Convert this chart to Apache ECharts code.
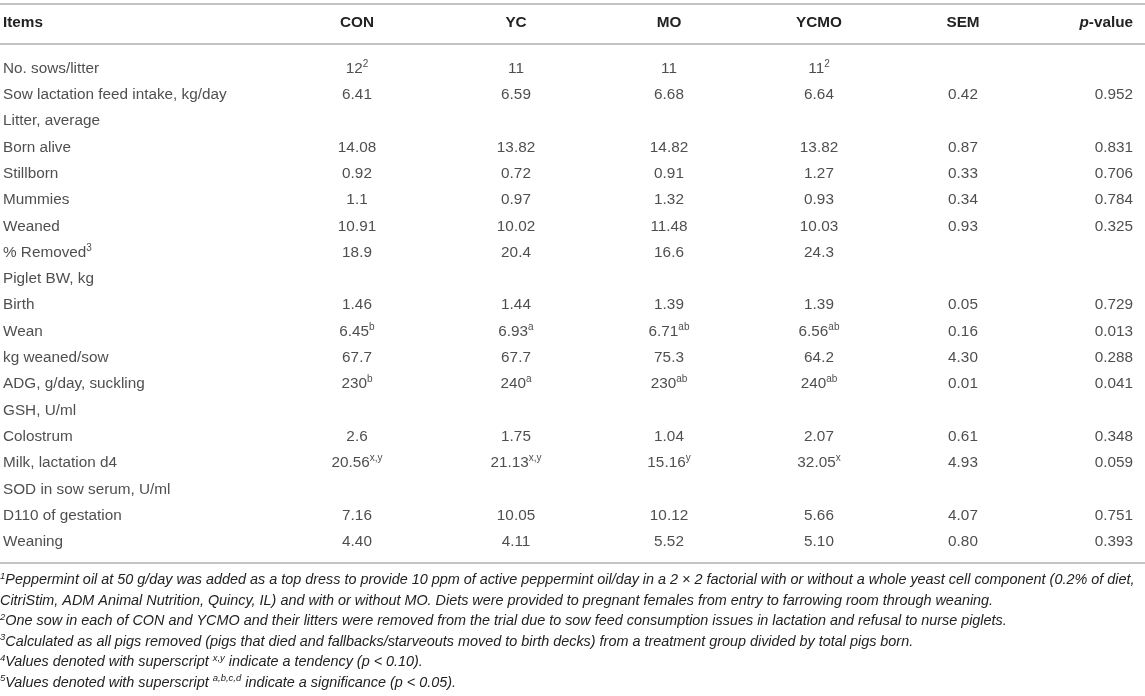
<!DOCTYPE html>
<html>
<head>
<meta charset="utf-8">
<script src="https://cdn.jsdelivr.net/npm/echarts@6/dist/echarts.min.js"></script>
<style>
  html, body { margin: 0; padding: 0; background: #fff; }
  #main { width: 1145px; height: 696px; }
</style>
</head>
<body>
<div id="main"></div>
<script>
// table data, superscripts marked with ^
var headers = ['Items', 'CON', 'YC', 'MO', 'YCMO', 'SEM', 'p-value'];
var items = ['No. sows/litter', 'Sow lactation feed intake, kg/day', 'Litter, average', 'Born alive',
  'Stillborn', 'Mummies', 'Weaned', '% Removed^3', 'Piglet BW, kg', 'Birth', 'Wean', 'kg weaned/sow',
  'ADG, g/day, suckling', 'GSH, U/ml', 'Colostrum', 'Milk, lactation d4', 'SOD in sow serum, U/ml',
  'D110 of gestation', 'Weaning'];
var con = ['12^2', '6.41', '', '14.08', '0.92', '1.1', '10.91', '18.9', '', '1.46', '6.45^b', '67.7',
  '230^b', '', '2.6', '20.56^x,y', '', '7.16', '4.40'];
var yc = ['11', '6.59', '', '13.82', '0.72', '0.97', '10.02', '20.4', '', '1.44', '6.93^a', '67.7',
  '240^a', '', '1.75', '21.13^x,y', '', '10.05', '4.11'];
var mo = ['11', '6.68', '', '14.82', '0.91', '1.32', '11.48', '16.6', '', '1.39', '6.71^ab', '75.3',
  '230^ab', '', '1.04', '15.16^y', '', '10.12', '5.52'];
var ycmo = ['11^2', '6.64', '', '13.82', '1.27', '0.93', '10.03', '24.3', '', '1.39', '6.56^ab', '64.2',
  '240^ab', '', '2.07', '32.05^x', '', '5.66', '5.10'];
var sem = ['', '0.42', '', '0.87', '0.33', '0.34', '0.93', '', '', '0.05', '0.16', '4.30', '0.01',
  '', '0.61', '4.93', '', '4.07', '0.80'];
var pval = ['', '0.952', '', '0.831', '0.706', '0.784', '0.325', '', '', '0.729', '0.013', '0.288',
  '0.041', '', '0.348', '0.059', '', '0.751', '0.393'];
var footnotes = [
  '^1Peppermint oil at 50 g/day was added as a top dress to provide 10 ppm of active peppermint oil/day in a 2 \u00d7 2 factorial with or without a whole yeast cell component (0.2% of diet,',
  'CitriStim, ADM Animal Nutrition, Quincy, IL) and with or without MO. Diets were provided to pregnant females from entry to farrowing room through weaning.',
  '^2One sow in each of CON and YCMO and their litters were removed from the trial due to sow feed consumption issues in lactation and refusal to nurse piglets.',
  '^3Calculated as all pigs removed (pigs that died and fallbacks/starveouts moved to birth decks) from a treatment group divided by total pigs born.',
  '^4Values denoted with superscript ^x,y indicate a tendency (p < 0.10).',
  '^5Values denoted with superscript ^a,b,c,d indicate a significance (p < 0.05).'
];

var columns = [items, con, yc, mo, ycmo, sem, pval];

// layout
var W = 1145;
var colX = [3, 357, 516, 669, 819, 963, 1133];
var colAlign = ['left', 'center', 'center', 'center', 'center', 'center', 'right'];
var FONT = '"Liberation Sans", Arial, Helvetica, sans-serif';
var TXT = '#222';
var LINE = '#c4c4c4';
var FS = 15.3, FS_SUP = 10, FS_NOTE = 14.4, FS_NOTE_SUP = 9.5;

// turn "6.45^b" into rich text
function toRich(s, b, sup) {
  b = b || 'v'; sup = sup || 's';
  var parts = s.split('^');
  var out = parts[0] ? '{' + b + '|' + parts[0] + '}' : '';
  for (var i = 1; i < parts.length; i++) {
    var m = /^\d/.test(parts[i]) ? parts[i].match(/^(\d)(.*)$/) : parts[i].match(/^(\S+)(.*)$/);
    out += '{' + sup + '|' + m[1] + '}';
    if (m[2]) out += '{' + b + '|' + m[2] + '}';
  }
  return out;
}

var chartDom = document.getElementById('main');
var myChart = echarts.init(chartDom, null, { renderer: 'canvas' });

var series = columns.map(function (col, c) {
  return {
    type: 'scatter',
    symbolSize: 0,
    silent: true,
    data: col.map(function (t, r) { return [colX[c], r, t]; }).filter(function (d) { return d[2] !== ''; }),
    label: {
      show: true,
      position: 'inside',
      align: colAlign[c],
      verticalAlign: 'middle',
      formatter: function (p) { return toRich(p.data[2]); },
      rich: {
        v: { fontFamily: FONT, fontSize: FS, color: TXT, lineHeight: 19 },
        s: { fontFamily: FONT, fontSize: FS_SUP, color: TXT, lineHeight: 19, verticalAlign: 'top' }
      }
    }
  };
});

var graphics = [];
[4, 44, 563].forEach(function (y) {
  graphics.push({
    type: 'line', silent: true,
    shape: { x1: 0, y1: y, x2: W, y2: y },
    style: { stroke: LINE, lineWidth: 2 }
  });
});
headers.forEach(function (h, c) {
  var txt = h === 'p-value' ? '{i|p}{b|-value}' : '{b|' + h + '}';
  graphics.push({
    type: 'text', silent: true,
    x: colX[c], y: 23,
    style: {
      text: txt, align: colAlign[c], verticalAlign: 'middle',
      rich: {
        b: { fontFamily: FONT, fontSize: FS, fontWeight: 'bold', fill: TXT },
        i: { fontFamily: FONT, fontSize: FS, fontWeight: 'bold', fontStyle: 'italic', fill: TXT }
      }
    }
  });
});
var footY = [580, 600.5, 621, 641.5, 662, 682.5];
footnotes.forEach(function (f, i) {
  graphics.push({
    type: 'text', silent: true,
    x: 0, y: footY[i],
    style: {
      text: toRich(f, 'f', 'fs'), align: 'left', verticalAlign: 'middle',
      rich: {
        f: { fontFamily: FONT, fontSize: FS_NOTE, fontStyle: 'italic', fill: TXT, lineHeight: 18 },
        fs: { fontFamily: FONT, fontSize: FS_NOTE_SUP, fontStyle: 'italic', fill: TXT, lineHeight: 18, verticalAlign: 'top' }
      }
    }
  });
});

var option = {
  animation: false,
  backgroundColor: '#fff',
  grid: { left: 0, right: 0, top: 55.35, height: 499.7 },
  xAxis: { type: 'value', min: 0, max: W, show: false },
  yAxis: {
    type: 'category', inverse: true, show: false,
    data: items.map(function (t, i) { return i; })
  },
  graphic: graphics,
  series: series
};
option && myChart.setOption(option);
</script>
</body>
</html>
